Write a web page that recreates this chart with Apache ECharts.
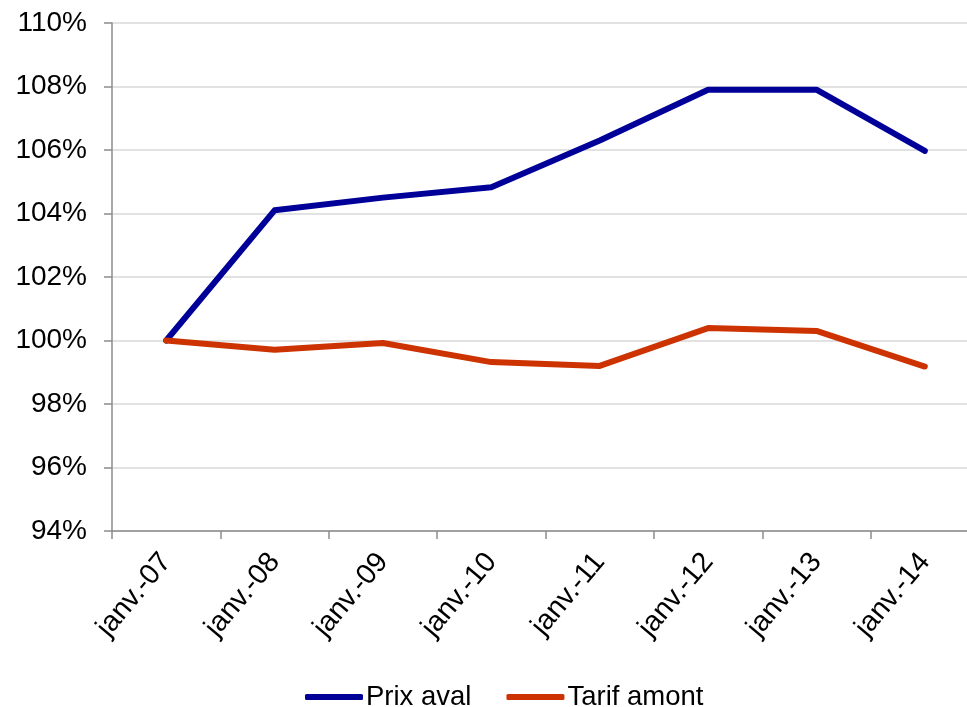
<!DOCTYPE html>
<html>
<head>
<meta charset="utf-8">
<script src="https://cdn.jsdelivr.net/npm/echarts@6/dist/echarts.min.js"></script>
<style>
  html, body { margin: 0; padding: 0; background: #fff; }
  #chart { width: 967px; height: 707px; }
</style>
</head>
<body>
<div id="chart"></div>
<script>
// Years on the category axis
const categories = ['janv.-07', 'janv.-08', 'janv.-09', 'janv.-10', 'janv.-11', 'janv.-12', 'janv.-13', 'janv.-14'];
// Index values, base 100 = janv.-07
const prixAval = [100, 104.1, 104.5, 104.83, 106.3, 107.9, 107.9, 105.97];
const tarifAmont = [100, 99.71, 99.92, 99.32, 99.2, 100.39, 100.3, 99.18];
// Value axis range and step
const yMin = 94, yMax = 110, yStep = 2;

const FONT = '"Liberation Sans", Arial, sans-serif';
const chart = echarts.init(document.getElementById('chart'), null, { renderer: 'canvas' });

chart.setOption({
  animation: false,
  backgroundColor: '#ffffff',
  // plot area runs a little past the right edge of the canvas
  grid: { left: 112, width: 867, top: 23, bottom: 176, containLabel: false, outerBoundsMode: 'none' },
  legend: {
    left: 300,
    top: 678,
    itemWidth: 58,
    itemHeight: 6,
    itemGap: 35,
    icon: 'roundRect',
    textStyle: { fontFamily: FONT, fontSize: 27.5, color: '#000', padding: [0, 0, 0, -2] },
    data: ['Prix aval', 'Tarif amont']
  },
  xAxis: {
    type: 'category',
    data: categories,
    boundaryGap: true,
    axisLine: { lineStyle: { color: '#8c8c8c', width: 1.5 } },
    axisTick: { show: true, length: 8, alignWithLabel: false, lineStyle: { color: '#8c8c8c', width: 1.5 } },
    axisLabel: { rotate: 50, margin: 26, fontFamily: FONT, fontSize: 28.5, color: '#000', interval: 0 },
    splitLine: { show: false }
  },
  yAxis: {
    type: 'value',
    min: yMin,
    max: yMax,
    interval: yStep,
    axisLine: { show: true, lineStyle: { color: '#8c8c8c', width: 1.5 } },
    axisTick: { show: true, length: 8, lineStyle: { color: '#8c8c8c', width: 1.5 } },
    axisLabel: { formatter: '{value}%', margin: 25, fontFamily: FONT, fontSize: 28, color: '#000' },
    splitLine: { show: true, lineStyle: { color: '#d9d9d9', width: 1.5 } }
  },
  series: [
    {
      name: 'Prix aval',
      type: 'line',
      data: prixAval,
      symbol: 'none',
      lineStyle: { color: '#000099', width: 6, cap: 'round', join: 'round' },
      itemStyle: { color: '#000099' }
    },
    {
      name: 'Tarif amont',
      type: 'line',
      data: tarifAmont,
      symbol: 'none',
      lineStyle: { color: '#cc3300', width: 6, cap: 'round', join: 'round' },
      itemStyle: { color: '#cc3300' }
    }
  ]
});
</script>
</body>
</html>
